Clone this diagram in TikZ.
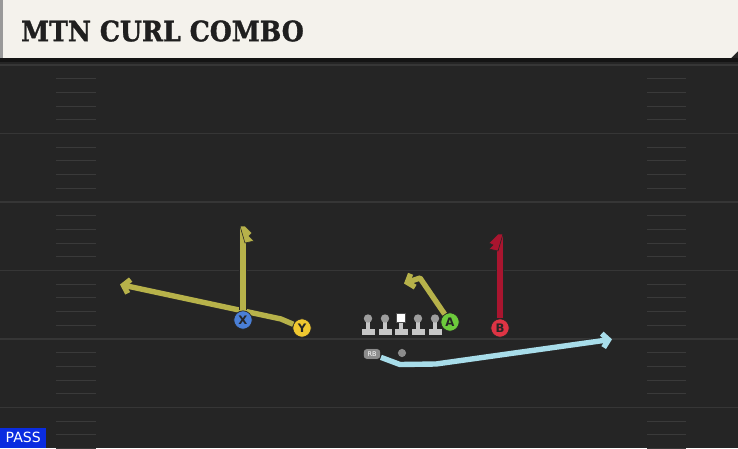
\documentclass[tikz,border=0pt]{standalone}
\usepackage{fontspec}
\setmainfont{DejaVu Sans}
\newfontfamily\titlefont[BoldFeatures={FakeBold=1.2}]{DejaVu Serif Condensed}
\usetikzlibrary{arrows.meta,shapes.misc}

\definecolor{fieldbg}{HTML}{252525}
\definecolor{yardline}{HTML}{363636}
\definecolor{hashline}{HTML}{3A3A3A}
\definecolor{titlebg}{HTML}{F4F2EC}
\definecolor{passblue}{HTML}{0A2CE0}
\definecolor{olive}{HTML}{B7B24A}
\definecolor{wine}{HTML}{A9152F}
\definecolor{skyblue}{HTML}{A8DDEA}
\definecolor{xblue}{HTML}{4A7FD6}
\definecolor{ygold}{HTML}{F0C830}
\definecolor{agreen}{HTML}{6DCB3C}
\definecolor{bred}{HTML}{DE3444}
\definecolor{olgray}{HTML}{C6C6C6}

\tikzset{
  player/.style={circle, draw=black!85, line width=0.6pt, minimum size=0.55cm, inner sep=0pt, font=\bfseries\fontsize{10}{10}\selectfont, text=black!85},
  route/.style={line width=4.6pt, line join=round, preaction={draw=black!85, line width=6.2pt}},
  routetip/.style={-{Straight Barb[length=5pt,width=12pt]}},
  yard/.style={draw=yardline, line width=1.6pt},
  hash/.style={draw=hashline, line width=1pt}
}

\begin{document}
\begin{tikzpicture}[x=0.03cm,y=-0.03cm]
\useasboundingbox (0,0) rectangle (738,448);
\begin{scope}
\clip (0,0) rectangle (738,448);
\fill[fieldbg] (0,0) rectangle (738,448);
\foreach \y in {65,133.5,202,270.5,339,407.5} {
  \draw[yard] (0,\y) -- (738,\y);
  \foreach \k in {1,...,4} {
    \draw[hash] (56,\y+\k*13.7) -- (96,\y+\k*13.7);
    \draw[hash] (647,\y+\k*13.7) -- (686,\y+\k*13.7);
  }
}
\fill[titlebg] (3,0) -- (738,0) -- (738,51) -- (731,58) -- (3,58) -- cycle;
\fill[black!40] (0,0) rectangle (3,58);
\fill[black!92] (0,58) rectangle (738,62);
\end{scope}
\node[anchor=west, font=\titlefont\bfseries\fontsize{24}{24}\selectfont, text=black!88] (title) at (17,31) {MTN CURL COMBO};

\node[player, fill=ygold] (Y) at (302,328) {Y};
\coordinate (ybreak) at (281,319);
\coordinate (yend) at (120,284.5);
\draw[route, olive, routetip] (Y) -- (ybreak) -- (yend);

\node[player, fill=xblue] (X) at (243,320) {X};
\coordinate (xtop) at (243,227);
\draw[route, olive] (X) -- (xtop);
\filldraw[olive, draw=black!85, line width=0.5pt] (240,226) -- (245,226) -- (252,233) -- (249,236) -- (254,241) -- (245,243) -- cycle;

\node[player, fill=agreen] (A) at (450,322) {A};
\coordinate (abreak) at (420,278);
\coordinate (aend) at (404,283.5);
\draw[route, olive, routetip] (A) -- (abreak) -- (aend);

\node[player, fill=bred] (B) at (500,328) {B};
\coordinate (btop) at (500,236);
\draw[route, wine] (B) -- (btop);
\filldraw[wine, draw=black!85, line width=0.5pt] (503,234) -- (498,234) -- (489,243) -- (493,245) -- (489,249) -- (498,251) -- cycle;

\foreach \x/\name in {368/LT, 385/LG, 418/RG, 435/RT} {
  \coordinate (\name) at (\x,326);
  \fill[olgray] (\x-6.5,329) rectangle (\x+6.5,335);
  \fill[olgray] (\x-2,320) rectangle (\x+2,330);
  \fill[black!38] (\x,318.5) circle (4.2);
}
\coordinate (C) at (401,326);
\fill[olgray] (394.5,329) rectangle (407.5,335);
\fill[olgray] (399,320) rectangle (403,330);
\filldraw[white, draw=black!70, line width=0.4pt] (396.5,313.5) rectangle (405.5,322);

\node[draw=black!90, fill=black!45, rounded corners=3pt, minimum width=0.52cm, minimum height=0.32cm, inner sep=0pt, text=white, font=\fontsize{5.5}{5.5}\selectfont] (RB) at (372,354) {RB};
\node[circle, fill=black!45, draw=black!90, line width=0.4pt, minimum size=0.27cm, inner sep=0pt] (QB) at (402,353) {};
\coordinate (rb1) at (400,364.5);
\coordinate (rb2) at (436,364);
\coordinate (rbend) at (612,339.3);
\draw[route, skyblue, routetip] (RB) -- (rb1) -- (rb2) -- (rbend);

\node[fill=passblue, text=white, anchor=south west, minimum width=1.38cm, minimum height=0.6cm, inner sep=0pt, font=\fontsize{12}{12}\selectfont] (pass) at (0,448) {PASS};
\end{tikzpicture}
\end{document}
